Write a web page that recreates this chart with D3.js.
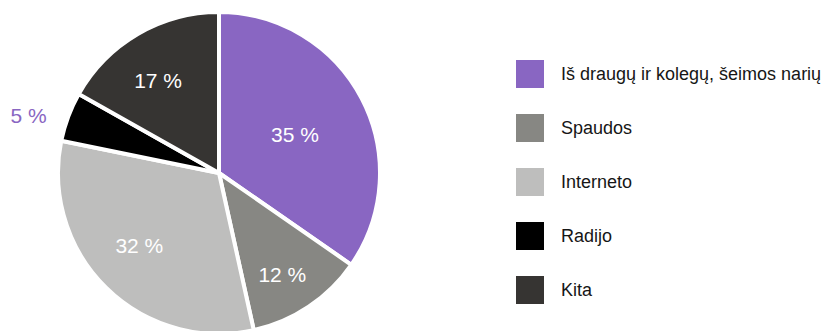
<!DOCTYPE html>
<html>
<head>
<meta charset="utf-8">
<script src="https://cdn.jsdelivr.net/npm/d3@7"></script>
<style>
  html, body { margin: 0; padding: 0; background: #fff; }
  svg { display: block; font-family: "Liberation Sans", Arial, sans-serif; }
</style>
</head>
<body>
<div id="chart"></div>
<script>
// data
const categories = [
    "Iš draugų ir kolegų, šeimos narių",
    "Spaudos",
    "Interneto",
    "Radijo",
    "Kita"
];
const shares = [35, 12, 32, 5, 17];
const labels = ["35 %", "12 %", "32 %", "5 %", "17 %"];
const colors = ["#8966c2", "#878783", "#bebebd", "#000000", "#363432"];

const WIDTH = 828, HEIGHT = 331;
const CX = 219, CY = 173, R = 161;
// label distance from centre and angle nudge (deg), per slice; the small one sits outside
const LABEL_R = [85, 120, 108, 199, 111];
const LABEL_DA = [1, 2, 3, -3.7, -3];

const svg = d3.select("#chart")
    .append("svg")
    .attr("width", WIDTH)
    .attr("height", HEIGHT);

const pie = d3.pie().sort(null).value(d => d);
const arcs = pie(shares);
const arc = d3.arc().innerRadius(0).outerRadius(R);

const g = svg.append("g")
    .attr("transform", "translate(" + CX + "," + CY + ")");

g.selectAll("path")
    .data(arcs)
    .enter()
    .append("path")
      .attr("d", arc)
      .attr("fill", (d, i) => colors[i])
      .attr("stroke", "#fff")
      .attr("stroke-width", 4)
      .attr("stroke-linejoin", "round");

function labelAngle(d, i) {
    return (d.startAngle + d.endAngle) / 2 + LABEL_DA[i] * Math.PI / 180;
}

g.selectAll("text")
    .data(arcs)
    .enter()
    .append("text")
      .attr("x", (d, i) => LABEL_R[i] * Math.sin(labelAngle(d, i)))
      .attr("y", (d, i) => -LABEL_R[i] * Math.cos(labelAngle(d, i)))
      .attr("text-anchor", "middle")
      .attr("dominant-baseline", "central")
      .attr("font-size", 21)
      .attr("fill", (d, i) => i === 3 ? colors[0] : "#fff")
      .text((d, i) => labels[i]);

// legend
const legend = svg.append("g")
    .attr("transform", "translate(516,60)");

const rowY = d3.scalePoint()
    .domain(categories)
    .range([0, 216]);

const rows = legend.selectAll("g")
    .data(categories)
    .enter()
    .append("g")
      .attr("transform", d => "translate(0," + rowY(d) + ")");

rows.append("rect")
    .attr("width", 28)
    .attr("height", 28)
    .attr("fill", (d, i) => colors[i]);

rows.append("text")
    .attr("x", 45)
    .attr("y", 14)
    .attr("dominant-baseline", "central")
    .attr("font-size", 18)
    .attr("fill", "#161616")
    .text(d => d);
</script>
</body>
</html>
